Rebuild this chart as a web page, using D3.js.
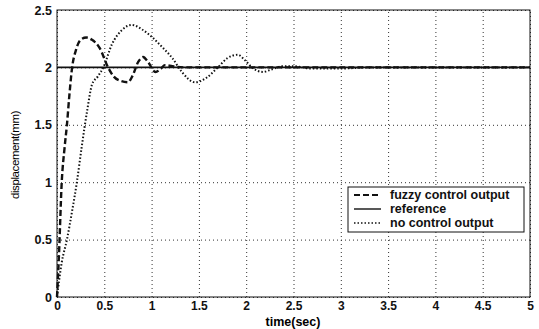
<!DOCTYPE html>
<html>
<head>
<meta charset="utf-8">
<script src="https://cdn.jsdelivr.net/npm/d3@7"></script>
<style>
  body { margin: 0; background: #fff; }
  svg { display: block; font-family: "Liberation Sans", Arial, sans-serif; }
</style>
</head>
<body>
<div id="chart"></div>
<script>
// fuzzy control output (dashed)
const fuzzyT = [0, 0.02, 0.05, 0.08, 0.105, 0.13, 0.16, 0.2, 0.25, 0.31, 0.37, 0.45, 0.54, 0.6, 0.68, 0.75, 0.8, 0.86, 0.91, 0.96, 1.04, 1.1, 1.14, 1.22, 1.35, 2, 3, 4, 5];
const fuzzyV = [0, 0.35, 1.0, 1.3, 1.5, 1.75, 2.0, 2.15, 2.24, 2.26, 2.24, 2.17, 2.0, 1.92, 1.88, 1.87, 1.93, 2.05, 2.09, 2.05, 1.96, 1.99, 2.02, 2.01, 2.0, 2.0, 2.0, 2.0, 2.0];

// no control output (dotted)
const noCtrlT = [0, 0.05, 0.105, 0.16, 0.21, 0.26, 0.32, 0.37, 0.43, 0.49, 0.58, 0.68, 0.79, 0.9, 1.01, 1.12, 1.22, 1.32, 1.46, 1.58, 1.7, 1.8, 1.91, 1.99, 2.06, 2.12, 2.18, 2.26, 2.39, 2.5, 2.7, 3.0, 3.3, 4, 5];
const noCtrlV = [0, 0.3, 0.5, 0.75, 1.0, 1.3, 1.63, 1.85, 1.92, 2.0, 2.2, 2.32, 2.37, 2.33, 2.26, 2.17, 2.08, 1.96, 1.87, 1.91, 2.0, 2.08, 2.11, 2.06, 2.0, 1.97, 1.96, 1.98, 2.01, 2.01, 1.99, 1.99, 2.0, 2.0, 2.0];

// reference (solid)
const refT = [0, 5];
const refV = [2, 2];

const xTicks = [0, 0.5, 1, 1.5, 2, 2.5, 3, 3.5, 4, 4.5, 5];
const yTicks = [0, 0.5, 1, 1.5, 2, 2.5];
const legendLabels = ["fuzzy control output", "reference", "no control output"];

const width = 539;
const height = 329;
const margin = { top: 10, right: 9, bottom: 32, left: 57 };

const x = d3.scaleLinear().domain([0, 5]).range([margin.left, width - margin.right]);
const y = d3.scaleLinear().domain([0, 2.5]).range([height - margin.bottom, margin.top]);

const svg = d3.create("svg")
  .attr("width", width)
  .attr("height", height)
  .attr("viewBox", [0, 0, width, height]);

// grid
svg.append("g")
  .attr("transform", `translate(0,${height - margin.bottom})`)
  .call(d3.axisBottom(x).tickValues(xTicks).tickSize(-(height - margin.top - margin.bottom)).tickFormat(""))
  .call(g => g.select(".domain").remove())
  .call(g => g.selectAll("line").attr("stroke", "#333").attr("stroke-dasharray", "1,3"));

svg.append("g")
  .attr("transform", `translate(${margin.left},0)`)
  .call(d3.axisLeft(y).tickValues(yTicks).tickSize(-(width - margin.left - margin.right)).tickFormat(""))
  .call(g => g.select(".domain").remove())
  .call(g => g.selectAll("line").attr("stroke", "#333").attr("stroke-dasharray", "1,3"));

// axes with labels
svg.append("g")
  .attr("transform", `translate(0,${height - margin.bottom})`)
  .call(d3.axisBottom(x).tickValues(xTicks).tickSize(0).tickPadding(4).tickFormat(d3.format("")))
  .call(g => g.select(".domain").remove())
  .call(g => g.selectAll("text").attr("font-size", 12).attr("font-weight", "bold").attr("fill", "#111"));

svg.append("g")
  .attr("transform", `translate(${margin.left},0)`)
  .call(d3.axisLeft(y).tickValues(yTicks).tickSize(0).tickPadding(5).tickFormat(d3.format("")))
  .call(g => g.select(".domain").remove())
  .call(g => g.selectAll("text").attr("font-size", 12.5).attr("font-weight", "bold").attr("fill", "#111"));

// frame
svg.append("rect")
  .attr("x", margin.left)
  .attr("y", margin.top)
  .attr("width", width - margin.left - margin.right)
  .attr("height", height - margin.top - margin.bottom)
  .attr("fill", "none")
  .attr("stroke", "#111")
  .attr("stroke-width", 1);

const line = d3.line()
  .x(d => x(d[0]))
  .y(d => y(d[1]))
  .curve(d3.curveMonotoneX);

const series = [
  { name: legendLabels[0], pts: d3.zip(fuzzyT, fuzzyV), dash: "6,3", w: 2.4 },
  { name: legendLabels[1], pts: d3.zip(refT, refV), dash: null, w: 1.8 },
  { name: legendLabels[2], pts: d3.zip(noCtrlT, noCtrlV), dash: "1.5,2", w: 2 }
];

svg.append("g")
  .selectAll("path")
  .data(series)
  .join("path")
  .attr("fill", "none")
  .attr("stroke", "#111")
  .attr("stroke-width", d => d.w)
  .attr("stroke-dasharray", d => d.dash)
  .attr("d", d => line(d.pts));

// legend
const legend = svg.append("g").attr("transform", "translate(348,187)");
legend.append("rect")
  .attr("width", 176)
  .attr("height", 45)
  .attr("fill", "#fff")
  .attr("stroke", "#111");

const rows = legend.selectAll("g")
  .data(series)
  .join("g")
  .attr("transform", (d, i) => `translate(0,${8 + i * 14})`);

rows.append("line")
  .attr("x1", 6).attr("x2", 33)
  .attr("stroke", "#111")
  .attr("stroke-width", d => d.w - 0.4)
  .attr("stroke-dasharray", d => d.dash);

rows.append("text")
  .attr("x", 42)
  .attr("dy", "0.35em")
  .attr("font-size", 12.5)
  .attr("font-weight", "bold")
  .attr("fill", "#111")
  .text(d => d.name);

// axis titles
svg.append("text")
  .attr("x", 293)
  .attr("y", height - 3)
  .attr("text-anchor", "middle")
  .attr("font-size", 12.5)
  .attr("font-weight", "bold")
  .text("time(sec)");

svg.append("text")
  .attr("transform", `translate(19,155) rotate(-90)`)
  .attr("text-anchor", "middle")
  .attr("font-size", 11.5)
  .attr("letter-spacing", "-0.4")
  .text("displacement(mm)");

document.getElementById("chart").append(svg.node());
</script>
</body>
</html>
